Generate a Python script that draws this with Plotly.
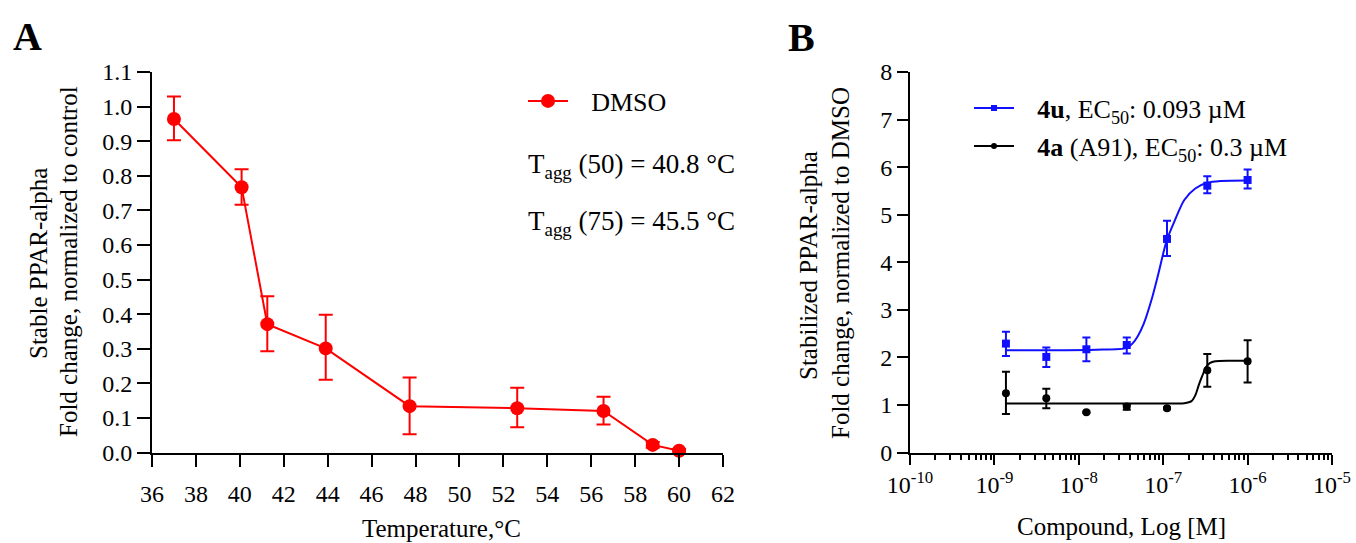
import plotly.graph_objects as go

# ---------------- Panel A data ----------------
temp_c = [37.0, 40.08, 41.25, 43.91, 47.73, 52.63, 56.56, 58.8, 60.0]
dmso_fold = [0.964, 0.767, 0.371, 0.301, 0.134, 0.128, 0.120, 0.022, 0.005]
dmso_upper = [1.029, 0.819, 0.452, 0.398, 0.217, 0.187, 0.161, 0.030, 0.010]
dmso_lower = [0.903, 0.716, 0.293, 0.210, 0.053, 0.073, 0.081, 0.014, 0.000]
a_xticks = [36, 38, 40, 42, 44, 46, 48, 50, 52, 54, 56, 58, 60, 62]

# ---------------- Panel B data ----------------
conc_m = [1.37e-9, 4.12e-9, 1.23e-8, 3.70e-8, 1.11e-7, 3.33e-7, 1.0e-6]
u4_fold = [2.29, 2.01, 2.17, 2.26, 4.49, 5.61, 5.73]
u4_upper = [2.54, 2.21, 2.42, 2.42, 4.87, 5.81, 5.95]
u4_lower = [2.03, 1.80, 1.92, 2.08, 4.13, 5.45, 5.55]
a4_fold = [1.245, 1.14, 0.846, 0.965, 0.93, 1.73, 1.92]
a4_upper = [1.70, 1.34, 0.86, 1.00, 0.95, 2.07, 2.36]
a4_lower = [0.81, 0.93, 0.83, 0.90, 0.91, 1.38, 1.47]

# fitted curves (log10 concentration, fold change)
u4_fit_logx = [-8.861, -8.3, -7.8, -7.43, -7.36, -7.30, -7.23, -7.14, -7.057,
               -6.96, -6.86, -6.75, -6.62, -6.48, -6.32, -6.0]
u4_fit_y = [2.15, 2.15, 2.16, 2.2, 2.3, 2.45, 2.71, 3.2, 3.76,
            4.45, 4.89, 5.31, 5.55, 5.67, 5.71, 5.72]
a4_fit_logx = [-8.861, -8.0, -7.3, -6.85, -6.75, -6.665, -6.62, -6.578, -6.535,
               -6.491, -6.448, -6.383, -6.2, -6.0]
a4_fit_y = [1.03, 1.03, 1.03, 1.03, 1.035, 1.08, 1.2, 1.42, 1.62,
            1.80, 1.88, 1.92, 1.93, 1.93]

b_decades = [-10, -9, -8, -7, -6, -5]
b_yticks = [0, 1, 2, 3, 4, 5, 6, 7, 8]

FONT = "Liberation Serif, Times New Roman, serif"
RED = "#ff0000"
BLUE = "#1010ff"
BLACK = "#000000"
GAP = "\u2002\u2009"  # spacing between legend symbol and label

W, H = 1356, 543


def px_x(p):
    return p / W


def px_y(p):
    return 1 - p / H


fig = go.Figure()

# ---- Panel A traces ----
fig.add_trace(go.Scatter(
    x=temp_c, y=dmso_fold, mode="lines+markers", name=GAP + "DMSO",
    line=dict(color=RED, width=2),
    marker=dict(color=RED, size=14, symbol="circle"),
    error_y=dict(type="data", symmetric=False,
                 array=[u - v for u, v in zip(dmso_upper, dmso_fold)],
                 arrayminus=[v - l for v, l in zip(dmso_fold, dmso_lower)],
                 color=RED, thickness=2, width=7),
    cliponaxis=False, xaxis="x", yaxis="y", legend="legend",
))

# ---- Panel B traces ----
fig.add_trace(go.Scatter(
    x=[10 ** v for v in u4_fit_logx], y=u4_fit_y, mode="lines",
    line=dict(color=BLUE, width=2, shape="spline", smoothing=0.8),
    showlegend=False, xaxis="x2", yaxis="y2", hoverinfo="skip",
))
fig.add_trace(go.Scatter(
    x=[10 ** v for v in a4_fit_logx], y=a4_fit_y, mode="lines",
    line=dict(color=BLACK, width=2, shape="spline", smoothing=0.8),
    showlegend=False, xaxis="x2", yaxis="y2", hoverinfo="skip",
))
fig.add_trace(go.Scatter(
    x=conc_m, y=u4_fold, mode="markers",
    marker=dict(color=BLUE, size=8, symbol="square"),
    error_y=dict(type="data", symmetric=False,
                 array=[u - v for u, v in zip(u4_upper, u4_fold)],
                 arrayminus=[v - l for v, l in zip(u4_fold, u4_lower)],
                 color=BLUE, thickness=2, width=4),
    showlegend=False, xaxis="x2", yaxis="y2", cliponaxis=False,
))
fig.add_trace(go.Scatter(
    x=conc_m, y=a4_fold, mode="markers",
    marker=dict(color=BLACK, size=8, symbol="circle"),
    error_y=dict(type="data", symmetric=False,
                 array=[u - v for u, v in zip(a4_upper, a4_fold)],
                 arrayminus=[v - l for v, l in zip(a4_fold, a4_lower)],
                 color=BLACK, thickness=2, width=4),
    showlegend=False, xaxis="x2", yaxis="y2", cliponaxis=False,
))
# legend entries for panel B
fig.add_trace(go.Scatter(
    x=[None], y=[None], mode="lines+markers",
    name=GAP + "<b>4u</b>, EC<sub>50</sub>: 0.093 µM",
    line=dict(color=BLUE, width=2), marker=dict(color=BLUE, size=6, symbol="square"),
    xaxis="x2", yaxis="y2", legend="legend2",
))
fig.add_trace(go.Scatter(
    x=[None], y=[None], mode="lines+markers",
    name=GAP + "<b>4a</b> (A91), EC<sub>50</sub>: 0.3 µM",
    line=dict(color=BLACK, width=2), marker=dict(color=BLACK, size=6, symbol="circle"),
    xaxis="x2", yaxis="y2", legend="legend3",
))

axis_common = dict(
    showline=True, linewidth=2, linecolor=BLACK, mirror=False,
    showgrid=False, zeroline=False, ticks="outside", tickwidth=2,
    tickcolor=BLACK, tickfont=dict(family=FONT, size=24, color=BLACK),
    automargin=False,
)

minor_vals = [m * 10 ** d for d in b_decades[:-1] for m in range(2, 10)]

fig.update_layout(
    width=W, height=H,
    margin=dict(l=0, r=0, t=0, b=0, autoexpand=False),
    paper_bgcolor="white", plot_bgcolor="white",
    font=dict(family=FONT, size=24, color=BLACK),
    xaxis=dict(axis_common, domain=[px_x(152), px_x(723)], range=[36, 62],
               tickvals=a_xticks, ticklen=12, ticklabelstandoff=7, anchor="y"),
    yaxis=dict(axis_common, domain=[px_y(452.5), px_y(72)], range=[0, 1.1],
               dtick=0.1, tick0=0, tickformat=".1f", ticklen=13, anchor="x"),
    xaxis2=dict(axis_common, type="log", domain=[px_x(910), px_x(1332)],
                range=[-10, -5],
                tickvals=[10 ** d for d in b_decades],
                ticktext=["10<sup>%d</sup>" % d for d in b_decades],
                ticklen=10, ticklabelstandoff=0, anchor="y2",
                minor=dict(ticks="outside", ticklen=5, tickwidth=2,
                           tickcolor=BLACK, tickmode="array", tickvals=minor_vals)),
    yaxis2=dict(axis_common, domain=[px_y(452.5), px_y(72)], range=[0, 8],
                tickvals=b_yticks, ticklen=11, anchor="x2"),
    legend=dict(x=px_x(523), y=px_y(101), xanchor="left", yanchor="middle",
                bgcolor="rgba(0,0,0,0)", font=dict(family=FONT, size=26),
                itemwidth=40),
    legend2=dict(x=px_x(969), y=px_y(108), xanchor="left", yanchor="middle",
                 bgcolor="rgba(0,0,0,0)", font=dict(family=FONT, size=26),
                 itemwidth=40),
    legend3=dict(x=px_x(969), y=px_y(146), xanchor="left", yanchor="middle",
                 bgcolor="rgba(0,0,0,0)", font=dict(family=FONT, size=26),
                 itemwidth=40),
)

annotations = [
    dict(text="<b>A</b>", x=px_x(27), y=px_y(36), font=dict(size=40)),
    dict(text="<b>B</b>", x=px_x(801), y=px_y(37), font=dict(size=40)),
    dict(text="Stable PPAR-alpha", x=px_x(38), y=px_y(264), textangle=-90),
    dict(text="Fold change, normalized to control", x=px_x(68), y=px_y(262), textangle=-90),
    dict(text="Stabilized PPAR-alpha", x=px_x(808), y=px_y(266), textangle=-90),
    dict(text="Fold change, normalized to DMSO", x=px_x(840), y=px_y(263), textangle=-90),
    dict(text="Temperature,°C", x=px_x(441), y=px_y(528)),
    dict(text="Compound, Log [M]", x=px_x(1121), y=px_y(526)),
    dict(text="T<sub>agg</sub> (50) = 40.8 °C", x=px_x(526), y=px_y(166),
         xanchor="left", font=dict(size=27)),
    dict(text="T<sub>agg</sub> (75) = 45.5 °C", x=px_x(526), y=px_y(223),
         xanchor="left", font=dict(size=27)),
]
for a in annotations:
    a.setdefault("xanchor", "center")
    a.setdefault("yanchor", "middle")
    a.setdefault("font", dict(size=25))
    a["font"] = dict(family=FONT, color=BLACK, **a["font"])
    a.update(xref="paper", yref="paper", showarrow=False)
fig.update_layout(annotations=annotations)

# remove the browser's default page margin so the figure sits at the window origin
fig.write_html(
    "out.html",
    config={"displayModeBar": False},
    post_script="document.body.style.margin='0';document.body.style.overflow='hidden';",
)
